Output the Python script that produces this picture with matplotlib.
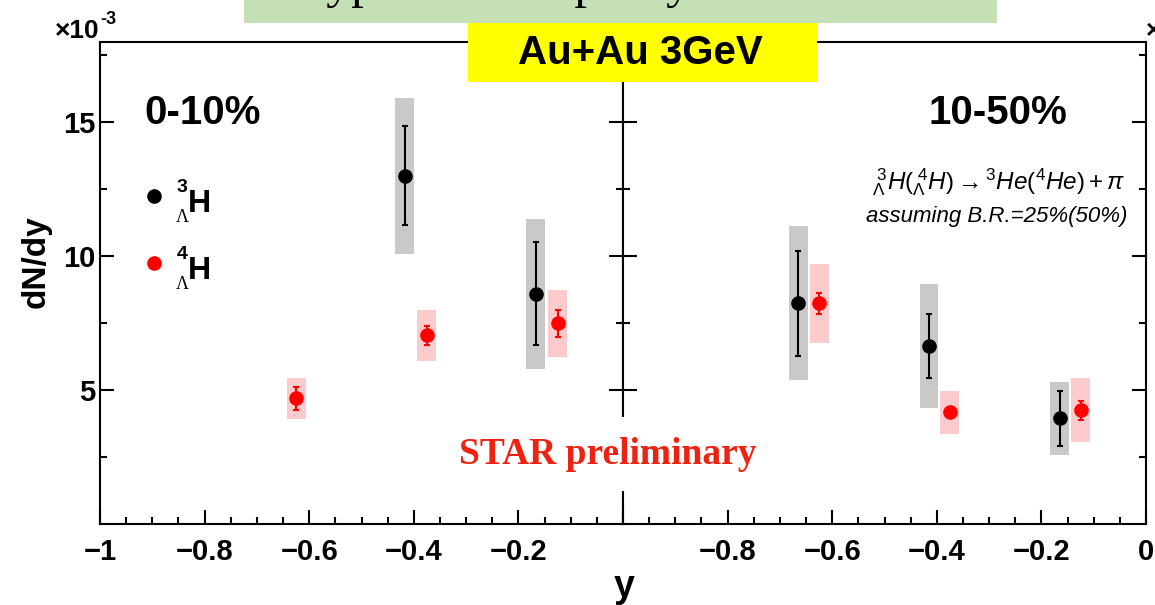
import matplotlib.pyplot as plt
from matplotlib.patches import Rectangle
from matplotlib.lines import Line2D

plt.rcParams['font.family'] = ['Liberation Sans', 'DejaVu Sans']
plt.rcParams['mathtext.fontset'] = 'custom'
plt.rcParams['mathtext.rm'] = 'Liberation Sans'
plt.rcParams['mathtext.it'] = 'Liberation Sans:italic'
plt.rcParams['mathtext.bf'] = 'Liberation Sans:bold'

# dN/dy in units of 1e-3, rapidity bins
# 0-10% centrality
h3_y_010 = [-0.417, -0.167]
h3_val_010 = [13.0, 8.6]
h3_stat_010 = [1.85, 1.92]
h3_sys_010 = [2.9, 2.8]

h4_y_010 = [-0.625, -0.375, -0.125]
h4_val_010 = [4.69, 7.04, 7.49]
h4_stat_010 = [0.42, 0.35, 0.49]
h4_sys_010 = [0.78, 0.95, 1.26]

# 10-50% centrality
h3_y_1050 = [-0.665, -0.415, -0.165]
h3_val_1050 = [8.24, 6.65, 3.94]
h3_stat_1050 = [1.97, 1.2, 1.03]
h3_sys_1050 = [2.88, 2.32, 1.36]

h4_y_1050 = [-0.625, -0.375, -0.125]
h4_val_1050 = [8.24, 4.17, 4.25]
h4_stat_1050 = [0.4, 0.15, 0.35]
h4_sys_1050 = [1.47, 0.8, 1.2]

xticks = [-1, -0.8, -0.6, -0.4, -0.2, 0]
xlabels_left = ['\u22121', '\u22120.8', '\u22120.6', '\u22120.4', '\u22120.2', '']
xlabels_right = ['', '\u22120.8', '\u22120.6', '\u22120.4', '\u22120.2', '0']

W, H = 1155, 605
fig = plt.figure(figsize=(W / 100, H / 100), dpi=100)

def fx(px):
    return px / W

def fy(py):
    return 1 - py / H

ax1 = fig.add_axes([fx(100), fy(524), fx(523), 482 / H])
ax2 = fig.add_axes([fx(623), fy(524), fx(523), 482 / H])

gray = '#c9c9c9'
pink = '#fbcaca'
box_w = 0.036

def draw_panel(ax, hy3, hv3, hs3, hy3sys, hy4, hv4, hs4, hy4sys):
    ax.bar(hy3, [2 * s for s in hy3sys], bottom=[v - s for v, s in zip(hv3, hy3sys)],
           width=box_w, color=gray, zorder=1)
    ax.bar(hy4, [2 * s for s in hy4sys], bottom=[v - s for v, s in zip(hv4, hy4sys)],
           width=box_w, color=pink, zorder=1)
    ax.errorbar(hy3, hv3, yerr=hs3, fmt='o', color='black', ms=9.5,
                elinewidth=1.5, capsize=2.5, capthick=1.5, zorder=3)
    ax.errorbar(hy4, hv4, yerr=hs4, fmt='o', color='red', ms=9.5,
                elinewidth=1.5, capsize=2.5, capthick=1.5, zorder=3)
    ax.set_xlim(-1, 0)
    ax.set_ylim(0, 18)
    ax.set_yticks([5, 10, 15])
    ax.set_yticks([2.5, 7.5, 12.5, 17.5], minor=True)
    ax.set_xticks([-1 + 0.05 * i for i in range(21)], minor=True)
    for s in ax.spines.values():
        s.set_linewidth(1.5)
    ax.tick_params(which='both', direction='in', top=False, right=True,
                   width=1.5, labelsize=21)
    ax.tick_params(which='major', length=10)
    ax.tick_params(which='minor', length=5)
    ax.tick_params(axis='x', pad=10)
    for lab in ax.get_xticklabels() + ax.get_yticklabels():
        lab.set_fontweight('bold')

draw_panel(ax1, h3_y_010, h3_val_010, h3_stat_010, h3_sys_010,
           h4_y_010, h4_val_010, h4_stat_010, h4_sys_010)
draw_panel(ax2, h3_y_1050, h3_val_1050, h3_stat_1050, h3_sys_1050,
           h4_y_1050, h4_val_1050, h4_stat_1050, h4_sys_1050)

ax1.set_xticks(xticks, xlabels_left, fontweight='bold', fontsize=21)
ax1.set_yticklabels(['5', '10', '15'], fontweight='bold', fontsize=21)
ax2.set_xticks(xticks, xlabels_right, fontweight='bold', fontsize=21)
ax2.tick_params(axis='y', labelleft=False)

# centrality labels
fig.text(fx(144), fy(113), '0-10%', fontsize=29, fontweight='bold', va='center')
fig.text(fx(1067), fy(113), '10-50%', fontsize=29, fontweight='bold', va='center', ha='right')

# legend
fig.add_artist(Line2D([fx(154)], [fy(196)], marker='o', ms=9.5, color='black',
                      transform=fig.transFigure))
fig.add_artist(Line2D([fx(154)], [fy(263)], marker='o', ms=9.5, color='red',
                      transform=fig.transFigure))
for sup, base in [('3', 196), ('4', 263)]:
    fig.text(fx(177), fy(base - 4), sup, fontsize=14, fontweight='bold', va='baseline')
    fig.text(fx(176), fy(base + 26), '\u039b', fontsize=13, va='baseline',
             family='Liberation Serif')
    fig.text(fx(188), fy(base + 16), 'H', fontsize=23, fontweight='bold', va='baseline')

# decay channel note
fig.text(fx(1125), fy(189),
         r'$^{\ 3}_{\Lambda}H(^{\ 4}_{\Lambda}H)\rightarrow {}^{3}He({}^{4}He)+\pi$',
         fontsize=17.5, ha='right', va='baseline')
fig.text(fx(1127), fy(222), 'assuming B.R.=25%(50%)', fontsize=16,
         style='italic', ha='right', va='baseline')

# axis titles
fig.text(fx(36), fy(262), 'dN/dy', fontsize=24, fontweight='bold', rotation=90,
         ha='center', va='center')
fig.text(fx(624), fy(597), 'y', fontsize=27, fontweight='bold', ha='center', va='baseline')

# exponent labels
fig.text(fx(100), fy(38), '\u00d710', fontsize=19, fontweight='bold', ha='right', va='baseline')
fig.text(fx(100), fy(24), '-3', fontsize=13, fontweight='bold', ha='left', va='baseline')
fig.text(fx(1146), fy(38), '\u00d7', fontsize=19, fontweight='bold', ha='left', va='baseline')

fig.text(fx(608), fy(454), 'STAR preliminary', fontsize=27, fontweight='bold',
         family='Liberation Serif', color='#ee2211', ha='center', va='center',
         bbox=dict(facecolor='white', edgecolor='none', pad=14))

# slide title strip (title text sits mostly above the top edge)
fig.add_artist(Rectangle((fx(244), fy(23)), fx(753), 23 / H, transform=fig.transFigure,
                         facecolor='#c5e0b4', edgecolor='none', zorder=5))
fig.text(fx(290), fy(-3), 'Hypertriton rapidity distribution', fontsize=36,
         family='Liberation Serif', va='baseline', zorder=6)

# energy banner
fig.add_artist(Rectangle((fx(468), fy(82)), fx(349), 59 / H, transform=fig.transFigure,
                         facecolor='#ffff00', edgecolor='none', zorder=5))
fig.text(fx(640), fy(53), 'Au+Au 3GeV', fontsize=29, fontweight='bold',
         ha='center', va='center', zorder=6)

fig.savefig('out.png', dpi=100)
